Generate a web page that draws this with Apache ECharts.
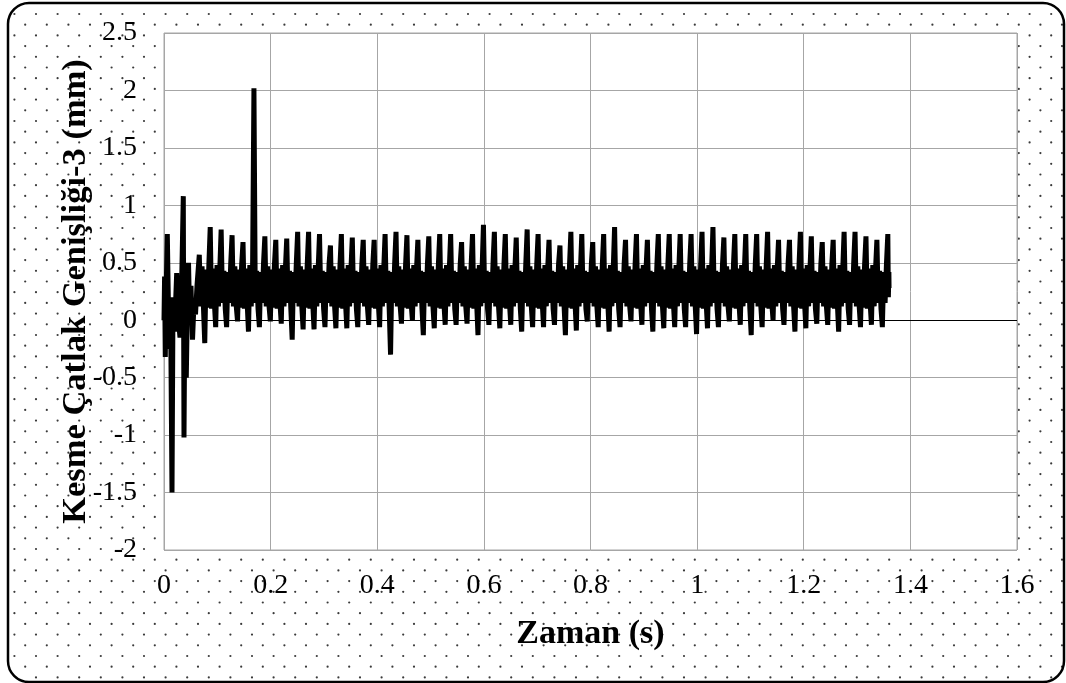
<!DOCTYPE html>
<html>
<head>
<meta charset="utf-8">
<script src="https://cdn.jsdelivr.net/npm/echarts@6/dist/echarts.min.js"></script>
<style>
html, body { margin: 0; padding: 0; background: #fff; }
#chart { width: 1066px; height: 683px; }
</style>
</head>
<body>
<div id="chart"></div>
<script>
/*
 * ---------------- data ----------------
 */
// opening transient, [time (s), width (mm)]
var startPoints = [
    [0.0000, 0.00], [0.0011, 0.38], [0.0024, -0.32], [0.0038, 0.20],
    [0.0062, 0.75], [0.0084, 0.10], [0.0103, -0.25], [0.0122, 0.18],
    [0.0150, -1.50], [0.0169, 0.20], [0.0197, -0.10], [0.0238, 0.41],
    [0.0263, 0.05], [0.0300, -0.15], [0.0328, 0.25], [0.0362, 1.08],
    [0.0375, -1.02], [0.0394, 0.30], [0.0418, -0.50], [0.0441, 0.20],
    [0.0460, 0.50], [0.0478, 0.10], [0.0506, 0.30], [0.0535, -0.17],
    [0.0563, 0.15], [0.0591, 0.05], [0.0619, 0.30]
];

var cycleStart = 0.0662;    // time of the first regular peak
var cyclePeriod = 0.0205;   // spacing of the peaks

// top of each cycle
var peaks = [
    0.57, 0.81, 0.79, 0.74, 0.68, 2.02, 0.73, 0.70,
    0.71, 0.77, 0.77, 0.75, 0.65, 0.75, 0.72, 0.70, 0.70, 0.75, 0.77,
    0.74, 0.70, 0.73, 0.75, 0.75, 0.68, 0.75, 0.83, 0.77, 0.75, 0.72,
    0.79, 0.75, 0.70, 0.65, 0.77, 0.75, 0.68, 0.75, 0.81, 0.70, 0.75,
    0.70, 0.75, 0.75, 0.75, 0.75, 0.77, 0.81, 0.72, 0.75, 0.75, 0.75,
    0.77, 0.70, 0.70, 0.77, 0.73, 0.68, 0.70, 0.77, 0.77, 0.73, 0.70, 0.75
];

// bottom of each cycle (between two peaks)
var troughs = [
    -0.20, -0.06, -0.06, -0.01, -0.10, -0.06, -0.01, -0.03, -0.17, -0.08, -0.08,
    -0.06, -0.07, -0.07, -0.06, -0.04, -0.06, -0.30, -0.03, 0.00, -0.13,
    -0.07, -0.04, -0.04, -0.03, -0.13, -0.04, -0.07, -0.04, -0.10, -0.06,
    -0.06, -0.04, -0.13, -0.09, -0.01, -0.06, -0.10, -0.06, -0.01, -0.04,
    -0.10, -0.07, -0.06, -0.06, -0.12, -0.07, -0.06, -0.01, -0.04, -0.13,
    -0.06, 0.00, -0.04, -0.10, -0.07, -0.03, -0.04, -0.10, -0.04, -0.06,
    -0.04, -0.06
];

// the wiggles inside the band, before and after the trough
var midA = [0.12, 0.47, 0.13, 0.44, 0.11, 0.48];
var midB = [0.10, 0.45, 0.16, 0.48, 0.12, 0.44];
var midC = [0.15, 0.43, 0.10, 0.42, 0.15, 0.49];

var endPoints = [[1.3587, 0.20], [1.3597, 0.42], [1.3600, 0.28]];

var xTicks = { min: 0, max: 1.6, step: 0.2 };
var yTicks = { min: -2, max: 2.5, step: 0.5 };

// ---------------------------------------------------------------

var seriesData = startPoints.slice();
var mids = [midA, midB, midC];
for (var i = 0; i < peaks.length; i++) {
    var t = cycleStart + i * cyclePeriod;
    var step = cyclePeriod / 8;
    seriesData.push([t, peaks[i]]);
    if (i >= troughs.length) break;
    var m = mids[i % 3];
    seriesData.push(
        [t + step, m[0]], [t + 2 * step, m[1]], [t + 3 * step, m[2]],
        [t + 4 * step, troughs[i]],
        [t + 5 * step, m[3]], [t + 6 * step, m[4]], [t + 7 * step, m[5]]
    );
}
endPoints.forEach(function (p) { seriesData.push(p); });

/**
 * dotted chart-area fill, clipped to the rounded frame
 */
function makeDots(w, h) {
    var c = document.createElement('canvas');
    c.width = w;
    c.height = h;
    var ctx = c.getContext('2d');
    ctx.beginPath();
    ctx.roundRect(8, 3, 1056, 679, 21);
    ctx.clip();
    ctx.fillStyle = '#3a3a3a';
    var dx = 21.6, dy = 10.7;
    for (var r = 0; r * dy < h + dy; r++) {
        var off = (r % 2 === 0) ? 14.4 : 3.6;
        for (var x = off; x < w; x += dx) {
            ctx.beginPath();
            ctx.arc(x, 14 + r * dy, 1.1, 0, Math.PI * 2);
            ctx.fill();
        }
    }
    return c;
}

var FONT = '"Liberation Serif", "Times New Roman", serif';
var GRID_COLOR = '#a6a6a6';

var chart = echarts.init(document.getElementById('chart'), null, { renderer: 'canvas' });

chart.setOption({
    animation: false,
    backgroundColor: '#fff',
    graphic: [
        {
            type: 'image', left: 0, top: 0, z: -10,
            style: { image: makeDots(1066, 683), width: 1066, height: 683 }
        },
        {
            type: 'rect', z: 100, silent: true,
            shape: { x: 8, y: 3, width: 1056, height: 679, r: 21 },
            style: { fill: null, stroke: '#000', lineWidth: 2.5 }
        }
    ],
    grid: {
        left: 164, right: 49, top: 33, bottom: 133,
        show: true, backgroundColor: '#fff',
        borderColor: GRID_COLOR, borderWidth: 1
    },
    xAxis: {
        type: 'value',
        min: xTicks.min, max: xTicks.max, interval: xTicks.step,
        name: 'Zaman (s)',
        nameLocation: 'middle',
        nameGap: 67,
        nameMoveOverlap: false,
        nameTextStyle: { fontFamily: FONT, fontWeight: 'bold', fontSize: 34, color: '#000' },
        axisLine: { show: false },
        axisTick: { show: false },
        axisLabel: { fontFamily: FONT, fontSize: 28, color: '#000', margin: 22 },
        splitLine: { lineStyle: { color: GRID_COLOR, width: 1 } }
    },
    yAxis: {
        type: 'value',
        min: yTicks.min, max: yTicks.max, interval: yTicks.step,
        name: 'Kesme Çatlak Genişliği-3 (mm)',
        nameLocation: 'middle',
        nameRotate: 90,
        nameGap: 70,
        nameMoveOverlap: false,
        nameTextStyle: { fontFamily: FONT, fontWeight: 'bold', fontSize: 34.5, color: '#000' },
        axisLine: { show: false },
        axisTick: { show: false },
        axisLabel: { fontFamily: FONT, fontSize: 28, color: '#000', margin: 27 },
        splitLine: { lineStyle: { color: GRID_COLOR, width: 1 } }
    },
    series: [{
        type: 'line',
        data: seriesData,
        showSymbol: false,
        symbol: 'none',
        sampling: null,
        lineStyle: { color: '#000', width: 5 },
        markLine: {
            silent: true,
            symbol: 'none',
            label: { show: false },
            lineStyle: { color: '#000', width: 1, type: 'solid' },
            data: [{ yAxis: 0 }]
        }
    }]
});
</script>
</body>
</html>
